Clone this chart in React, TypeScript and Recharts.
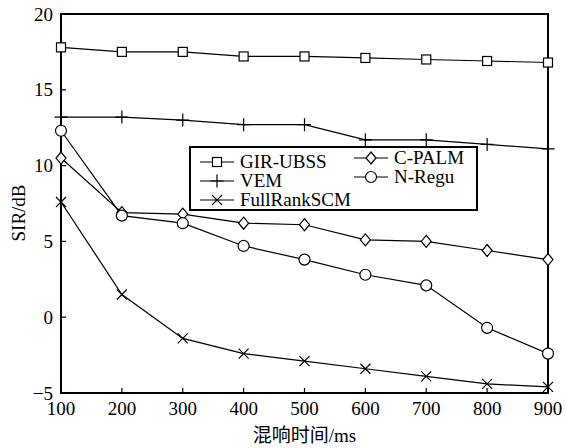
import React from "react";
import {
  LineChart,
  Line,
  XAxis,
  YAxis,
  Legend,
  ReferenceArea,
  Label,
} from "recharts";

const times = [100, 200, 300, 400, 500, 600, 700, 800, 900];
const girUbss = [17.8, 17.5, 17.5, 17.2, 17.2, 17.1, 17.0, 16.9, 16.8];
const vem = [13.2, 13.2, 13.0, 12.7, 12.7, 11.7, 11.7, 11.4, 11.1];
const fullRankScm = [7.6, 1.5, -1.4, -2.4, -2.9, -3.4, -3.9, -4.4, -4.6];
const cPalm = [10.5, 6.9, 6.8, 6.2, 6.1, 5.1, 5.0, 4.4, 3.8];
const nRegu = [12.3, 6.7, 6.2, 4.7, 3.8, 2.8, 2.1, -0.7, -2.4];

const xTicks = [100, 200, 300, 400, 500, 600, 700, 800, 900];
const yTicks = [-5, 0, 5, 10, 15, 20];

const data = times.map((t, i) => ({
  t,
  gir: girUbss[i],
  vem: vem[i],
  full: fullRankScm[i],
  cpalm: cPalm[i],
  nregu: nRegu[i],
}));

const FONT = '"Liberation Serif", "Times New Roman", "Noto Sans CJK SC", serif';
const SW = 1.2;

type Kind = "square" | "plus" | "cross" | "diamond" | "circle";

function Marker({ kind, cx, cy }: { kind: Kind; cx: number; cy: number }) {
  const common = { stroke: "#000", strokeWidth: SW, fill: "#fff" };
  switch (kind) {
    case "square":
      return <rect x={cx - 4.5} y={cy - 4.5} width={9} height={9} {...common} />;
    case "circle":
      return <circle cx={cx} cy={cy} r={5.5} {...common} />;
    case "diamond":
      return (
        <path
          d={`M${cx},${cy - 6}L${cx + 5},${cy}L${cx},${cy + 6}L${cx - 5},${cy}Z`}
          {...common}
        />
      );
    case "plus":
      return (
        <path
          d={`M${cx - 6.5},${cy}H${cx + 6.5}M${cx},${cy - 6.5}V${cy + 6.5}`}
          stroke="#000"
          strokeWidth={SW}
          fill="none"
        />
      );
    default:
      return (
        <path
          d={`M${cx - 5},${cy - 5}L${cx + 5},${cy + 5}M${cx - 5},${cy + 5}L${cx + 5},${cy - 5}`}
          stroke="#000"
          strokeWidth={SW}
          fill="none"
        />
      );
  }
}

const dotOf = (kind: Kind) => (p: any) =>
  p.cx == null ? <g key={p.index} /> : <Marker key={p.index} kind={kind} cx={p.cx} cy={p.cy} />;

const series: { key: string; name: string; kind: Kind }[] = [
  { key: "gir", name: "GIR-UBSS", kind: "square" },
  { key: "vem", name: "VEM", kind: "plus" },
  { key: "full", name: "FullRankSCM", kind: "cross" },
  { key: "cpalm", name: "C-PALM", kind: "diamond" },
  { key: "nregu", name: "N-Regu", kind: "circle" },
];

function LegendIcon({ kind }: { kind: Kind }) {
  return (
    <svg width={36} height={16} style={{ display: "block" }}>
      <line x1={1} y1={8} x2={35} y2={8} stroke="#000" strokeWidth={SW} />
      <Marker kind={kind} cx={18} cy={8} />
    </svg>
  );
}

function LegendBox() {
  const pos = [
    { left: 8, top: 4 },
    { left: 8, top: 23 },
    { left: 8, top: 42 },
    { left: 162, top: 0 },
    { left: 162, top: 19 },
  ];
  return (
    <div
      style={{
        position: "relative",
        width: 285,
        height: 61,
        border: "2px solid #000",
        background: "#fff",
        fontFamily: FONT,
        fontSize: 19,
        color: "#000",
      }}
    >
      {series.map((s, i) => (
        <div
          key={s.key}
          style={{
            position: "absolute",
            left: pos[i].left,
            top: pos[i].top,
            display: "flex",
            alignItems: "center",
            height: 19,
            lineHeight: "19px",
            whiteSpace: "nowrap",
          }}
        >
          <LegendIcon kind={s.kind} />
          <span style={{ marginLeft: 5 }}>{s.name}</span>
        </div>
      ))}
    </div>
  );
}

function XTick(props: any) {
  const { x, y, payload } = props;
  const axisY = y - 8;
  const isEnd = payload.value === 100 || payload.value === 900;
  return (
    <g>
      {!isEnd && <line x1={x} y1={axisY} x2={x} y2={axisY - 5} stroke="#000" strokeWidth={1.2} />}
      <text x={x} y={y} dy="0.75em" textAnchor="middle" fontSize={19} fontFamily={FONT} fill="#000">
        {payload.value}
      </text>
    </g>
  );
}

function YTick(props: any) {
  const { x, y, payload } = props;
  const axisX = x + 8;
  const isEnd = payload.value === -5 || payload.value === 20;
  const txt = payload.value < 0 ? `\u2212${Math.abs(payload.value)}` : `${payload.value}`;
  return (
    <g>
      {!isEnd && <line x1={axisX} y1={y} x2={axisX + 5} y2={y} stroke="#000" strokeWidth={1.2} />}
      <text x={x} y={y} dy="0.35em" textAnchor="end" fontSize={19} fontFamily={FONT} fill="#000">
        {txt}
      </text>
    </g>
  );
}

export default function App() {
  return (
    <div style={{ position: "absolute", left: 0, top: 0, width: 568, height: 448, background: "#fff" }}>
      <LineChart
        width={568}
        height={448}
        data={data}
        margin={{ top: 14, right: 20, bottom: 0, left: 11 }}
      >
        <XAxis
          dataKey="t"
          type="number"
          domain={[100, 900]}
          ticks={xTicks}
          axisLine={false}
          tickLine={false}
          tickSize={0}
          tickMargin={8}
          height={55}
          tick={<XTick />}
          interval={0}
        >
          <Label
            value="混响时间/ms"
            position="insideBottom"
            offset={6}
            style={{ fontFamily: FONT, fontSize: 19, fill: "#000" }}
          />
        </XAxis>
        <YAxis
          type="number"
          domain={[-5, 20]}
          ticks={yTicks}
          axisLine={false}
          tickLine={false}
          tickSize={0}
          tickMargin={8}
          width={50}
          tick={<YTick />}
          interval={0}
        >
          <Label
            content={() => (
              <text
                x={18}
                y={213}
                transform="rotate(-90 18 213)"
                textAnchor="middle"
                dominantBaseline="central"
                fontSize={19}
                fontFamily={FONT}
                fill="#000"
              >
                SIR/dB
              </text>
            )}
          />
        </YAxis>
        <ReferenceArea
          x1={100}
          x2={900}
          y1={-5}
          y2={20}
          fill="none"
          stroke="#000"
          strokeWidth={2}
          ifOverflow="visible"
        />
        {series.map((s) => (
          <Line
            key={s.key}
            type="linear"
            dataKey={s.key}
            name={s.name}
            stroke="#000"
            strokeWidth={SW}
            dot={dotOf(s.kind)}
            activeDot={false}
            isAnimationActive={false}
          />
        ))}
        <Legend
          verticalAlign="middle"
          layout="horizontal"
          content={() => <LegendBox />}
          wrapperStyle={{ left: 189, top: 146, width: 289, height: 65 }}
        />
      </LineChart>
    </div>
  );
}
